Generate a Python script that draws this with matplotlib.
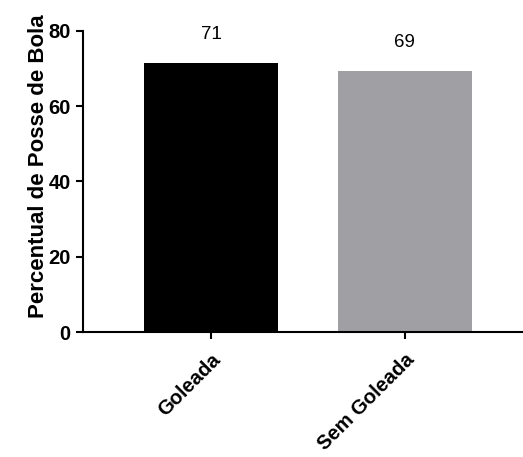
import matplotlib
matplotlib.use('Agg')
import matplotlib.pyplot as plt

categories = ['Goleada', 'Sem Goleada']
values = [71.5, 69.4]
value_labels = ['71', '69']
bar_colors = ['#000000', '#a0a0a4']
y_ticks = [0, 20, 40, 60, 80]

plt.rcParams['font.family'] = ['Liberation Sans', 'DejaVu Sans']

fig = plt.figure(figsize=(5.23, 4.57), dpi=100)
ax = fig.add_axes([0.159, 0.2735, 0.845, 0.659])

positions = range(len(categories))
ax.bar(positions, values, width=0.69, color=bar_colors)

for x, v, lab in zip(positions, values, value_labels):
    ax.annotate(lab, (x, v), xytext=(0, 14), textcoords='offset points',
                ha='center', va='bottom', fontsize=13.5)

ax.set_xlim(-0.66, 1.62)
ax.set_ylim(0, 80)
ax.set_yticks(y_ticks)
ax.set_xticks(list(positions))
ax.set_xticklabels(categories, rotation=45, ha='right', rotation_mode='anchor',
                   fontsize=14.5, fontweight='bold')
for lab in ax.get_yticklabels():
    lab.set_fontweight('bold')
    lab.set_fontsize(14.5)

ax.set_ylabel('Percentual de Posse de Bola', fontsize=16, fontweight='bold')
ax.yaxis.set_label_coords(-0.078, 0.55)

ax.spines['top'].set_visible(False)
ax.spines['right'].set_visible(False)
ax.spines['left'].set_linewidth(1.5)
ax.spines['bottom'].set_linewidth(1.5)
ax.tick_params(width=1.5, length=5)
ax.tick_params(axis='x', pad=8)
ax.tick_params(axis='y', pad=4)

fig.savefig('out.png', dpi=100)
